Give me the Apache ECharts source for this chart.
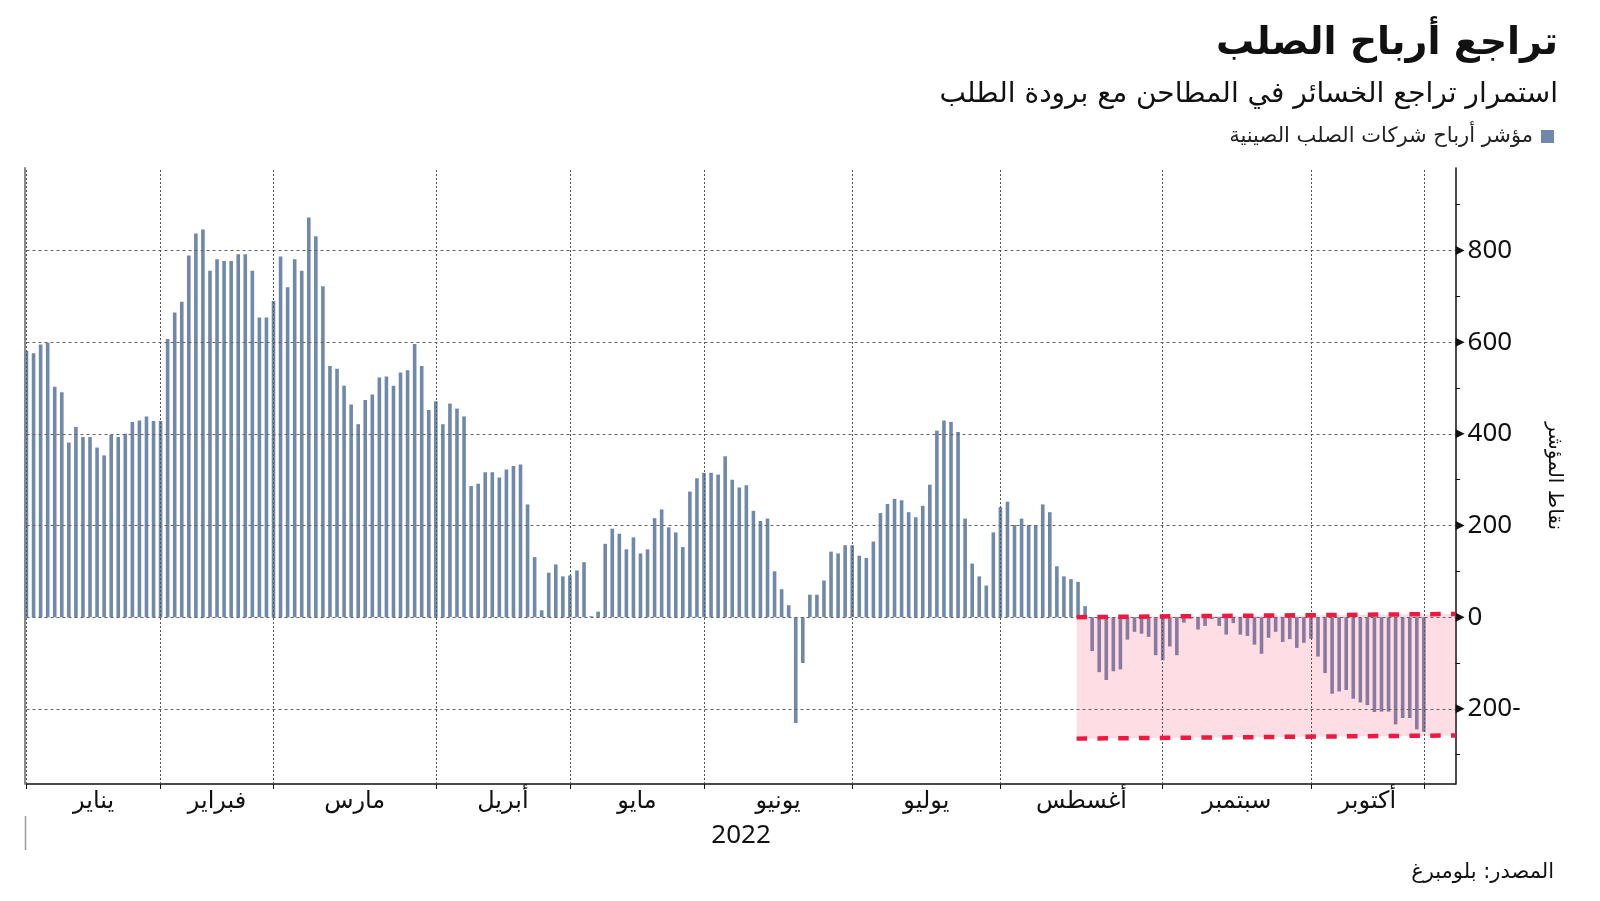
<!DOCTYPE html>
<html>
<head>
<meta charset="utf-8">
<script src="https://cdn.jsdelivr.net/npm/echarts@6/dist/echarts.min.js"></script>
<style>html,body{margin:0;padding:0;background:#fff;} #chart{width:1600px;height:901px;}</style>
</head>
<body>
<div id="chart"></div>
<script>
// ---- data ----
const seriesName = 'مؤشر أرباح شركات الصلب الصينية';
const monthNames = ['يناير','فبراير','مارس','أبريل','مايو','يونيو','يوليو','أغسطس','سبتمبر','أكتوبر'];
// index (trading day) of first trading day of each month, Jan..Nov 2022
const monthStarts = [0,19,35,58,77,96,117,138,161,182,198];
const yearLabel = '2022';
// Chinese steel mills profit index, one value per trading day (4 Jan - 1 Nov 2022)
const janValues = [581,576,595,599,503,491,381,415,393,393,370,353,398,393,400,426,429,438,428];
const febValues = [428,607,665,688,789,837,846,756,781,777,777,792,792,756,654,654];
const marValues = [690,787,720,781,756,872,831,722,548,542,505,464,421,474,486,523,525,505,534,539,596,548,452];
const aprValues = [471,421,466,455,438,286,291,316,316,305,322,330,333,246,131,15,97,115,89];
const mayValues = [91,102,120,2,12,160,193,182,148,174,139,148,216,235,196,185,153,274,303];
const junValues = [315,315,311,351,300,283,288,232,210,215,100,61,26,-231,-100,49,49,80,143,139,157];
const julValues = [157,134,129,165,227,247,258,255,229,218,243,289,407,429,426,404,215,117,89,69,185];
const augValues = [240,252,201,215,201,201,246,229,111,89,83,77,24,-74,-120,-137,-118,-114,-49,-32,-36,-43,-83];
const sepValues = [-94,-64,-83,-12,-3,-27,-19,-4,-19,-38,-13,-38,-41,-60,-80,-45,-32,-54,-48,-67,-56];
const octValues = [-47,-86,-122,-167,-162,-159,-178,-186,-192,-207,-206,-206,-234,-220,-220,-245];
const novValues = [-250];
const values = [].concat(janValues,febValues,marValues,aprValues,mayValues,junValues,julValues,augValues,sepValues,octValues,novValues);

const yLabelValues = [-200,0,200,400,600,800];
const yTickValues = [-300,-200,-100,0,100,200,300,400,500,600,700,800,900];
const gridYValues = [-200,0,200,400,600,800];
// highlighted loss zone (x in trading-day index, y in index points)
const bandX = [148.8, 202.5];
const bandTop = [0, 7];
const bandBottom = [-265, -258];

const X_MAX = 202.5, Y_MIN = -364, Y_MAX = 980;
const monthMids = monthNames.map((m,i)=>(monthStarts[i]+monthStarts[i+1])/2);

const chart = echarts.init(document.getElementById('chart'), null, {renderer:'canvas'});
const AR = 'DejaVu Sans';
const option = {
  animation:false,
  backgroundColor:'#ffffff',
  title:[
    {text:'تراجع أرباح الصلب', right:42, top:25, padding:0,
     textStyle:{fontSize:38, fontWeight:'bold', fontFamily:AR, color:'#111'}},
    {text:'استمرار تراجع الخسائر في المطاحن مع برودة الطلب', right:42, top:81, padding:0,
     textStyle:{fontSize:28, fontWeight:'normal', fontFamily:AR, color:'#111'}},
    {text:'المصدر: بلومبرغ', right:46, top:862, padding:0,
     textStyle:{fontSize:21, fontWeight:'normal', fontFamily:AR, color:'#111'}}
  ],
  legend:{
    data:[seriesName], right:46, top:126, padding:0, align:'right', icon:'rect',
    itemWidth:13, itemHeight:13, selectedMode:false,
    textStyle:{fontSize:21, fontFamily:AR, color:'#222', padding:[0,3,0,0]}
  },
  grid:{left:26.5, right:144.4, top:168, bottom:117, containLabel:false},
  xAxis:[{
    type:'value', min:0, max:X_MAX, position:'bottom',
    name:yearLabel, nameLocation:'middle', nameGap:39,
    nameTextStyle:{fontSize:26, fontFamily:'Noto Sans', color:'#111'},
    axisLine:{show:true, onZero:false, lineStyle:{color:'#111', width:1.5}},
    axisTick:{show:true, customValues:monthStarts, length:5, lineStyle:{color:'#111', width:1}},
    axisLabel:{show:true, customValues:monthMids, margin:6, fontSize:24, fontFamily:AR, color:'#111',
      formatter:(v)=>{const k=monthMids.indexOf(v); return k>=0?monthNames[k]:'';}},
    splitLine:{show:false}
  }],
  yAxis:[{
    type:'value', min:Y_MIN, max:Y_MAX, position:'right',
    name:'نقاط المؤشر', nameLocation:'middle', nameRotate:-90, nameGap:89,
    nameTextStyle:{fontSize:20, fontFamily:AR, color:'#111'},
    axisLine:{show:true, onZero:false, lineStyle:{color:'#111', width:1.5}},
    axisTick:{show:true, customValues:yTickValues, length:4.5, lineStyle:{color:'#111', width:1}},
    axisLabel:{show:true, customValues:yLabelValues, margin:12, fontSize:26, fontFamily:'Noto Sans', color:'#111',
      formatter:(v)=> v<0 ? (Math.abs(v)+'-') : String(v)},
    splitLine:{show:false}
  },{
    type:'value', min:Y_MIN, max:Y_MAX, position:'left', offset:2,
    axisLine:{show:true, onZero:false, lineStyle:{color:'#8a8a8a', width:2}},
    axisTick:{show:false}, axisLabel:{show:false}, splitLine:{show:false}
  }],
  series:[
    {
      name:seriesName, type:'bar', xAxisIndex:0, yAxisIndex:0, clip:false,
      barWidth:3.6, itemStyle:{color:'#6f88ac'},
      data:values.map((v,i)=>[i,v]),
      markLine:{
        silent:true, symbol:'none', animation:false, label:{show:false},
        lineStyle:{color:'#666', type:[3,3], width:1},
        emphasis:{disabled:true},
        data: gridYValues.map(v=>({yAxis:v}))
          .concat(monthStarts.map(v=>({xAxis:v, lineStyle:{color:'#555', type:[2,2], width:1}})))
      },
      markPoint:{
        silent:true, symbol:'triangle', symbolSize:[9,9], symbolRotate:-90, symbolOffset:[4.5,0],
        itemStyle:{color:'#111'}, label:{show:false}, animation:false,
        data: yLabelValues.map(v=>({coord:[X_MAX, v]}))
      }
    },
    {
      type:'custom', z:4, silent:true, clip:false,
      data:[[bandX[0], bandX[1], bandTop[0], bandTop[1], bandBottom[0], bandBottom[1]]],
      encode:{x:[0,1], y:[2,3,4,5]},
      renderItem:(params, api)=>{
        const p1 = api.coord([api.value(0), api.value(2)]);
        const p2 = api.coord([api.value(1), api.value(3)]);
        const p3 = api.coord([api.value(1), api.value(5)]);
        const p4 = api.coord([api.value(0), api.value(4)]);
        return {type:'polygon', shape:{points:[p1,p2,p3,p4]}, style:{fill:'rgba(255,66,105,0.18)'}};
      }
    },
    {
      type:'line', z:7, silent:true, symbol:'none', showSymbol:false,
      data:[[bandX[0], bandTop[0]],[bandX[1], bandTop[1]]],
      lineStyle:{color:'#ef1840', width:4.5, type:[10.5,10.3], cap:'butt'}
    },
    {
      type:'line', z:7, silent:true, symbol:'none', showSymbol:false,
      data:[[bandX[0], bandBottom[0]],[bandX[1], bandBottom[1]]],
      lineStyle:{color:'#ef1840', width:4.5, type:[10.5,10.3], cap:'butt'}
    }
  ],
  graphic:[
    {type:'line', silent:true, shape:{x1:25.5, y1:816, x2:25.5, y2:850}, style:{stroke:'#999', lineWidth:1.5}}
  ]
};
chart.setOption(option);
</script>
</body>
</html>
